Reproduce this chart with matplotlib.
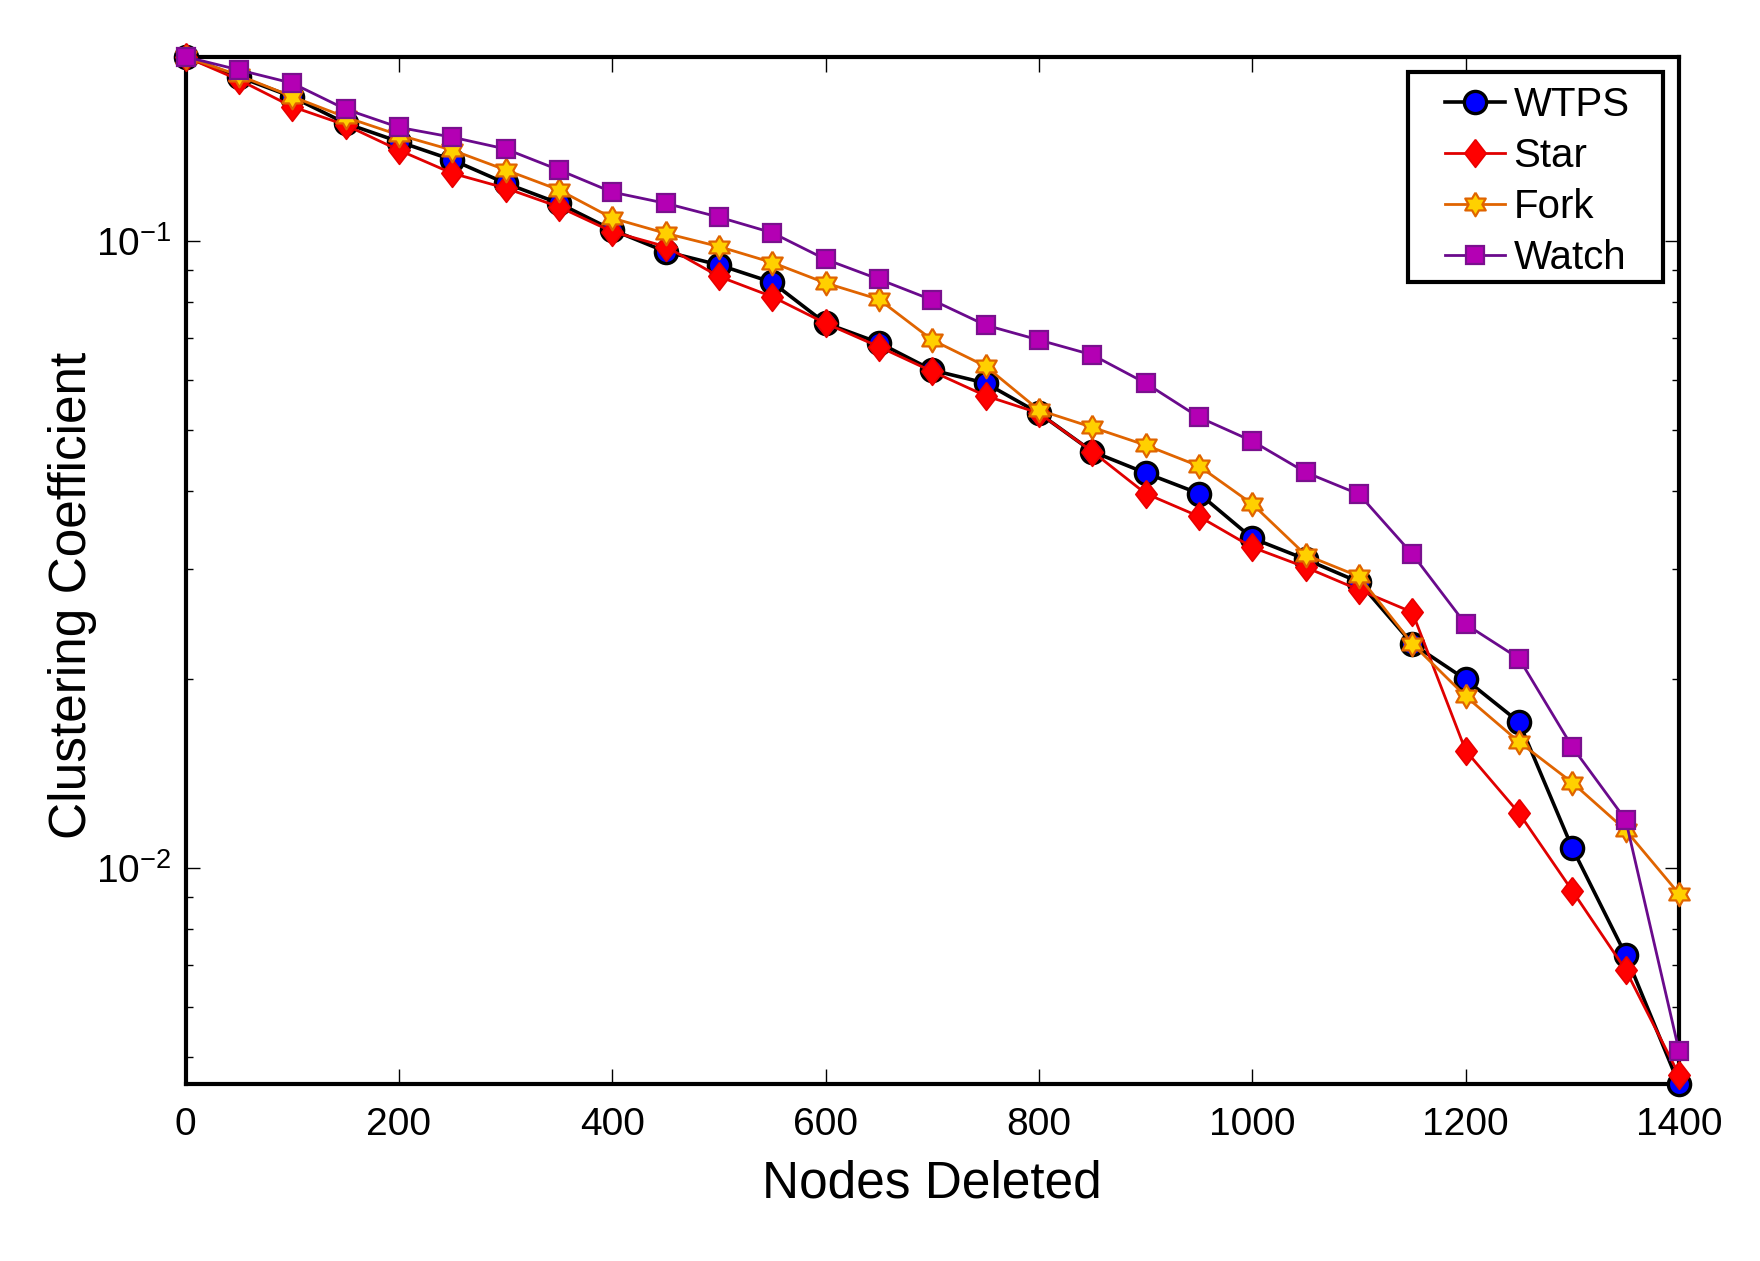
import matplotlib
matplotlib.use("Agg")
import matplotlib.pyplot as plt
from matplotlib.patches import Rectangle
from matplotlib.ticker import LogLocator, LogFormatterMathtext, NullFormatter
import numpy as np

plt.rcParams['font.family'] = ['Liberation Sans', 'DejaVu Sans']
plt.rcParams['mathtext.fontset'] = 'custom'
plt.rcParams['mathtext.rm'] = 'Liberation Sans'
plt.rcParams['mathtext.it'] = 'Liberation Sans:italic'
plt.rcParams['mathtext.bf'] = 'Liberation Sans:bold'
plt.rcParams['mathtext.default'] = 'regular'

# ---------------- data ----------------
nodes_deleted = [0, 50, 100, 150, 200, 250, 300, 350, 400, 450, 500, 550, 600, 650, 700,
                 750, 800, 850, 900, 950, 1000, 1050, 1100, 1150, 1200, 1250, 1300, 1350, 1400]

wtps = [0.197, 0.183, 0.170, 0.1543, 0.1442, 0.1349, 0.1238, 0.1150, 0.1043, 0.0963,
        0.0917, 0.0860, 0.0740, 0.0689, 0.0623, 0.0594, 0.0532, 0.0462, 0.0427, 0.0396,
        0.0336, 0.0311, 0.0286, 0.0228, 0.0200, 0.0171, 0.01076, 0.00727, 0.00452]

star = [0.197, 0.181, 0.164, 0.1533, 0.1398, 0.1284, 0.1216, 0.1135, 0.1036, 0.0981,
        0.0879, 0.0816, 0.0740, 0.0679, 0.0620, 0.0567, 0.0532, 0.0462, 0.0396, 0.0364,
        0.0325, 0.0302, 0.0278, 0.0256, 0.0154, 0.01224, 0.0092, 0.00688, 0.00468]

fork = [0.197, 0.184, 0.1702, 0.1578, 0.1478, 0.1398, 0.1300, 0.1208, 0.1089, 0.1030,
        0.0981, 0.0925, 0.0858, 0.0808, 0.0696, 0.0632, 0.0538, 0.0505, 0.0473, 0.0438,
        0.0381, 0.0316, 0.0292, 0.0228, 0.0188, 0.0159, 0.01369, 0.0115, 0.0091]

watch = [0.197, 0.1877, 0.1788, 0.1625, 0.1520, 0.1466, 0.1404, 0.1300, 0.1198, 0.1150,
         0.1093, 0.1032, 0.0936, 0.0870, 0.0806, 0.0735, 0.0696, 0.0659, 0.0594, 0.0524,
         0.0480, 0.0428, 0.0395, 0.0317, 0.0245, 0.0216, 0.0156, 0.01194, 0.00511]

series_names = ["WTPS", "Star", "Fork", "Watch"]
x_ticks = [0, 200, 400, 600, 800, 1000, 1200, 1400]

# ---------------- custom markers ----------------
diamond = [(0, 1), (0.77, 0), (0, -1), (-0.77, 0), (0, 1)]
ang = np.deg2rad(np.arange(0, 360, 30) + 90)
rad = np.where(np.arange(12) % 2 == 0, 1.0, 0.58)
hexagram = list(zip(rad * np.cos(ang), rad * np.sin(ang)))
hexagram.append(hexagram[0])

W, H = 1760, 1261
fig = plt.figure(figsize=(W / 100, H / 100), dpi=100)
ax = fig.add_axes([0.1054, 0.1401, 0.9540 - 0.1054, 0.9550 - 0.1401])

common = dict(clip_on=False)
ax.plot(nodes_deleted, wtps, color='black', lw=2.6, marker='o', ms=16,
        mfc='#0000FF', mec='black', mew=2.4, label=series_names[0], zorder=4, **common)
ax.plot(nodes_deleted, star, color='#E00000', lw=2.0, marker=diamond, ms=20,
        mfc='#FF0000', mec='#E80000', mew=1.2, label=series_names[1], zorder=5, **common)
ax.plot(nodes_deleted, fork, color='#E06400', lw=2.0, marker=hexagram, ms=17,
        mfc='#FFD000', mec='#E06400', mew=1.6, label=series_names[2], zorder=6, **common)
ax.plot(nodes_deleted, watch, color='#6A0A8C', lw=2.0, marker='s', ms=13.5,
        mfc='#B400B4', mec='#7A108E', mew=1.6, label=series_names[3], zorder=7, **common)

ax.set_yscale('log')
all_vals = wtps + star + fork + watch
ax.set_ylim(min(all_vals), max(all_vals))
ax.set_xlim(nodes_deleted[0], nodes_deleted[-1])
ax.set_xticks(x_ticks)
ax.set_xticklabels([str(t) for t in x_ticks])
ax.yaxis.set_major_locator(LogLocator(base=10, numticks=10))
ax.yaxis.set_major_formatter(LogFormatterMathtext())
ax.yaxis.set_minor_locator(LogLocator(base=10, subs=np.arange(2, 10), numticks=20))
ax.yaxis.set_minor_formatter(NullFormatter())

for s in ax.spines.values():
    s.set_linewidth(3.0)
    s.set_zorder(3)

ax.tick_params(which='both', direction='in', top=True, right=True, width=1.0)
ax.tick_params(axis='x', which='major', length=11, labelsize=28, pad=16)
ax.tick_params(axis='y', which='major', length=10, labelsize=28, pad=10)
ax.tick_params(axis='y', which='minor', length=5)

ax.set_xlabel("Nodes Deleted", fontsize=37, labelpad=12)
ax.set_ylabel("Clustering Coefficient", fontsize=37)
ax.yaxis.set_label_coords(-0.059, 0.476)

leg = ax.legend(loc='upper left', bbox_to_anchor=(1445 / W, 1 - 86 / H),
                bbox_transform=fig.transFigure, frameon=False, fontsize=29,
                handlelength=1.5, handletextpad=0.2, labelspacing=0.32,
                borderpad=0.0, borderaxespad=0.0)
leg.set_zorder(10)

# legend frame (MATLAB-style wide box)
box_left, box_right, box_top, box_bottom = 1408, 1663, 72, 282
rect = Rectangle((box_left / W, 1 - box_bottom / H), (box_right - box_left) / W,
                 (box_bottom - box_top) / H, transform=fig.transFigure, fill=True,
                 facecolor='white', edgecolor='black', lw=3.0, zorder=9, clip_on=False)
ax.add_artist(rect)

fig.savefig("out.png", dpi=100, facecolor='white')
